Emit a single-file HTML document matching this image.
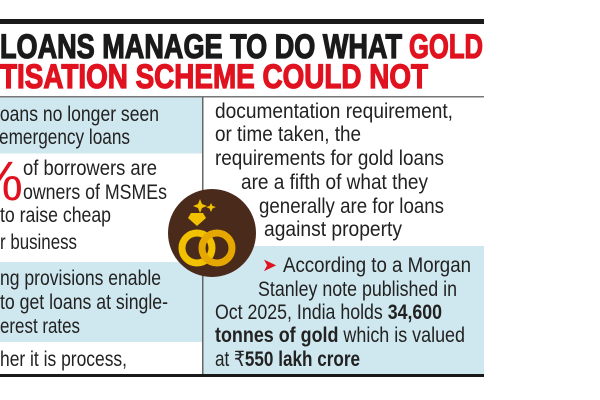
<!DOCTYPE html>
<html><head><meta charset="utf-8"><style>
html,body{margin:0;padding:0;background:#fff;width:600px;height:400px;overflow:hidden}
svg{display:block}
text{font-family:"Liberation Sans",sans-serif}
</style></head><body>
<svg width="600" height="400" viewBox="0 0 600 400" xmlns="http://www.w3.org/2000/svg">
<rect width="600" height="400" fill="#fff"/>
<rect x="0" y="19" width="484" height="5" fill="#1a1a1a"/>
<text x="0" y="58" font-size="34" font-weight="bold" fill="#1a1a1a" stroke="#1a1a1a" stroke-width="1.3" textLength="402" lengthAdjust="spacingAndGlyphs">LOANS MANAGE TO DO WHAT</text>
<text x="409" y="58" font-size="34" font-weight="bold" fill="#e0121f" stroke="#e0121f" stroke-width="1.3" textLength="74" lengthAdjust="spacingAndGlyphs">GOLD</text>
<text x="0" y="88" font-size="34" font-weight="bold" fill="#e0121f" stroke="#e0121f" stroke-width="1.3" textLength="428" lengthAdjust="spacingAndGlyphs">TISATION SCHEME COULD NOT</text>
<rect x="0" y="96" width="484" height="1.5" fill="#777"/>
<rect x="0" y="97.5" width="202" height="56" fill="#cfe7ee"/>
<rect x="0" y="262" width="202" height="80" fill="#cfe7ee"/>
<rect x="203" y="246" width="281" height="128" fill="#cfe7ee"/>
<rect x="202" y="97" width="1.5" height="277" fill="#666"/>
<rect x="0" y="374" width="484" height="3" fill="#1a1a1a"/>
<g font-size="21" fill="#222">
<text x="-4" y="121" textLength="163" lengthAdjust="spacingAndGlyphs">loans no longer seen</text>
<text x="-1" y="144" textLength="131" lengthAdjust="spacingAndGlyphs">emergency loans</text>
<text x="-27" y="200" font-size="56" fill="#e0121f" textLength="50" lengthAdjust="spacingAndGlyphs">%</text>
<text x="23" y="175" textLength="134" lengthAdjust="spacingAndGlyphs">of borrowers are</text>
<text x="23" y="199" textLength="144" lengthAdjust="spacingAndGlyphs">owners of MSMEs</text>
<text x="0" y="222" textLength="111" lengthAdjust="spacingAndGlyphs">to raise cheap</text>
<text x="0" y="249" textLength="77" lengthAdjust="spacingAndGlyphs">r business</text>
<text x="0" y="285" textLength="161" lengthAdjust="spacingAndGlyphs">ng provisions enable</text>
<text x="0" y="309" textLength="168" lengthAdjust="spacingAndGlyphs">to get loans at single-</text>
<text x="0" y="333" textLength="80" lengthAdjust="spacingAndGlyphs">erest rates</text>
<text x="0" y="366" textLength="127" lengthAdjust="spacingAndGlyphs">her it is process,</text>
<text x="215" y="118" textLength="238" lengthAdjust="spacingAndGlyphs">documentation requirement,</text>
<text x="215" y="141" textLength="146" lengthAdjust="spacingAndGlyphs">or time taken, the</text>
<text x="215" y="165" textLength="229" lengthAdjust="spacingAndGlyphs">requirements for gold loans</text>
<text x="241" y="189" textLength="187" lengthAdjust="spacingAndGlyphs">are a fifth of what they</text>
<text x="259" y="213" textLength="185" lengthAdjust="spacingAndGlyphs">generally are for loans</text>
<text x="264" y="236" textLength="138" lengthAdjust="spacingAndGlyphs">against property</text>
<text x="262" y="271" fill="#e0121f" font-size="18">➤</text>
<text x="283" y="272" textLength="188" lengthAdjust="spacingAndGlyphs">According to a Morgan</text>
<text x="258" y="296" textLength="199" lengthAdjust="spacingAndGlyphs">Stanley note published in</text>
<text x="215" y="319" textLength="227" lengthAdjust="spacingAndGlyphs">Oct 2025, India holds <tspan font-weight="bold">34,600</tspan></text>
<text x="215" y="342" textLength="250" lengthAdjust="spacingAndGlyphs"><tspan font-weight="bold">tonnes of gold</tspan> which is valued</text>
<text x="215" y="366" textLength="145" lengthAdjust="spacingAndGlyphs">at ₹<tspan font-weight="bold">550 lakh crore</tspan></text>
</g>
<circle cx="212" cy="233" r="44" fill="#4a2a1b"/>
<circle cx="197" cy="248" r="15" fill="none" stroke="#f2c200" stroke-width="7"/>
<circle cx="217" cy="248" r="15" fill="none" stroke="#e6a800" stroke-width="7"/>
<path d="M191 213 L203 213 L206 218 L197 226 L188 218 Z" fill="#f2c200"/>
<path d="M200 199 L202 204 L207 206 L202 208 L200 213 L198 208 L193 206 L198 204 Z" fill="#f2c200"/>
<path d="M211 203 L212.5 206 L216 207 L212.5 208.5 L211 212 L209.5 208.5 L206 207 L209.5 206 Z" fill="#f2c200"/>
</svg>
</body></html>
